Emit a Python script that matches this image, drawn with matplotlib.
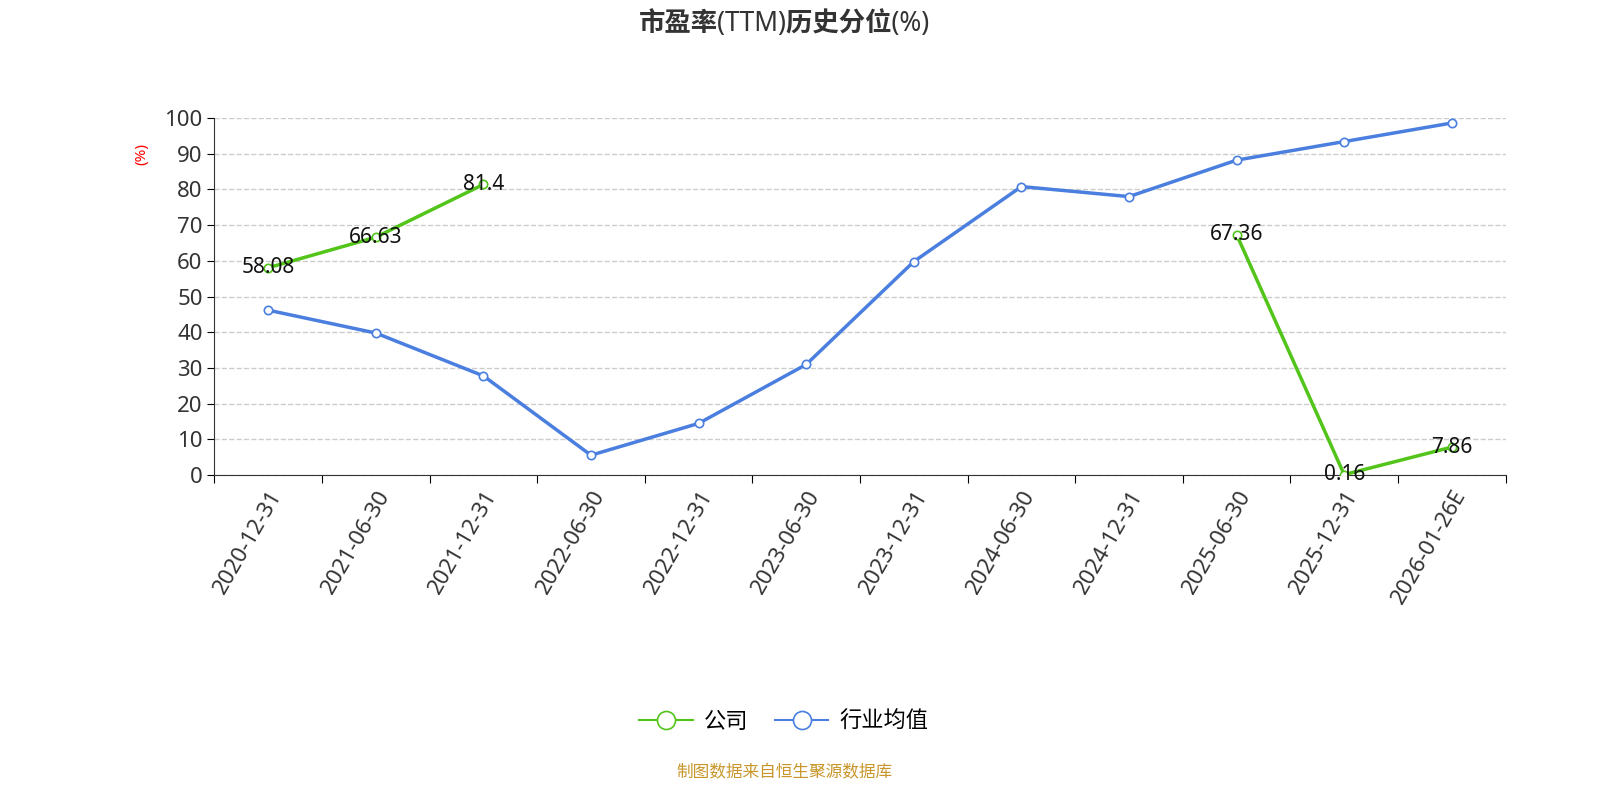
import numpy as np
import matplotlib.pyplot as plt
from matplotlib.lines import Line2D

plt.rcParams['font.family'] = ['Noto Sans', 'Noto Sans CJK SC', 'DejaVu Sans']

dates = ['2020-12-31', '2021-06-30', '2021-12-31', '2022-06-30', '2022-12-31', '2023-06-30',
         '2023-12-31', '2024-06-30', '2024-12-31', '2025-06-30', '2025-12-31', '2026-01-26E']
company = [58.08, 66.63, 81.4, np.nan, np.nan, np.nan, np.nan, np.nan, np.nan, 67.36, 0.16, 7.86]
industry = [46.2, 39.8, 27.8, 5.6, 14.5, 31.0, 59.8, 80.8, 78.0, 88.2, 93.4, 98.6]

green = '#52c41a'
blue = '#4a7fe0'

fig = plt.figure(figsize=(16, 8), dpi=100)
ax = fig.add_axes([0.134, 0.406, 0.807, 0.4465])
x = np.arange(len(dates))

ax.plot(x, company, color=green, lw=2.5, marker='o', ms=6, mfc='white', mec=green, mew=1.2, zorder=3)
ax.plot(x, industry, color=blue, lw=2.5, marker='o', ms=6, mfc='white', mec=blue, mew=1.2, zorder=3)

# data labels for the company series
for xi, v in zip(x, company):
    if not np.isnan(v):
        ax.text(xi, v, f'{v:g}', ha='center', va='center', fontsize=15, color='#111111', zorder=4)

ax.set_xlim(-0.5, len(dates) - 0.5)
ax.set_ylim(0, 100)
ax.set_yticks(range(0, 101, 10))
ax.set_xticks(np.arange(-0.5, len(dates), 1), minor=False)
ax.set_xticklabels([])
ax.set_xticks(x, minor=True)
ax.set_xticklabels(dates, minor=True, rotation=60, ha='right', rotation_mode='anchor', fontsize=16, color='#333333')
ax.tick_params(axis='x', which='minor', length=0, pad=8)
ax.tick_params(axis='x', which='major', length=6)
ax.tick_params(axis='y', labelsize=16, labelcolor='#333333', length=5)
ax.grid(axis='y', ls='--', color='#cccccc', lw=1)
for s in ['top', 'right']:
    ax.spines[s].set_visible(False)
ax.spines['left'].set_color('#333333')
ax.spines['bottom'].set_color('#333333')
ax.set_ylabel('(%)', color='red', fontsize=11, labelpad=2)
ax.yaxis.set_label_coords(-0.05, 0.9)

fig.text(0.49, 0.97, '市盈率(TTM)历史分位(%)', ha='center', va='center', fontsize=19, fontweight='bold', color='#333333')

handles = [Line2D([], [], color=green, marker='o', ms=13, mfc='white', mew=1.2, lw=1.5),
           Line2D([], [], color=blue, marker='o', ms=13, mfc='white', mew=1.2, lw=1.5)]
fig.legend(handles, ['公司', '行业均值'], loc='center', bbox_to_anchor=(0.49, 0.097), ncol=2,
           frameon=False, fontsize=16, handlelength=2.4, columnspacing=1.2, handletextpad=0.5)
fig.text(0.49, 0.034, '制图数据来自恒生聚源数据库', ha='center', va='center', fontsize=12, color='#c8962a')

fig.savefig('out.png')
